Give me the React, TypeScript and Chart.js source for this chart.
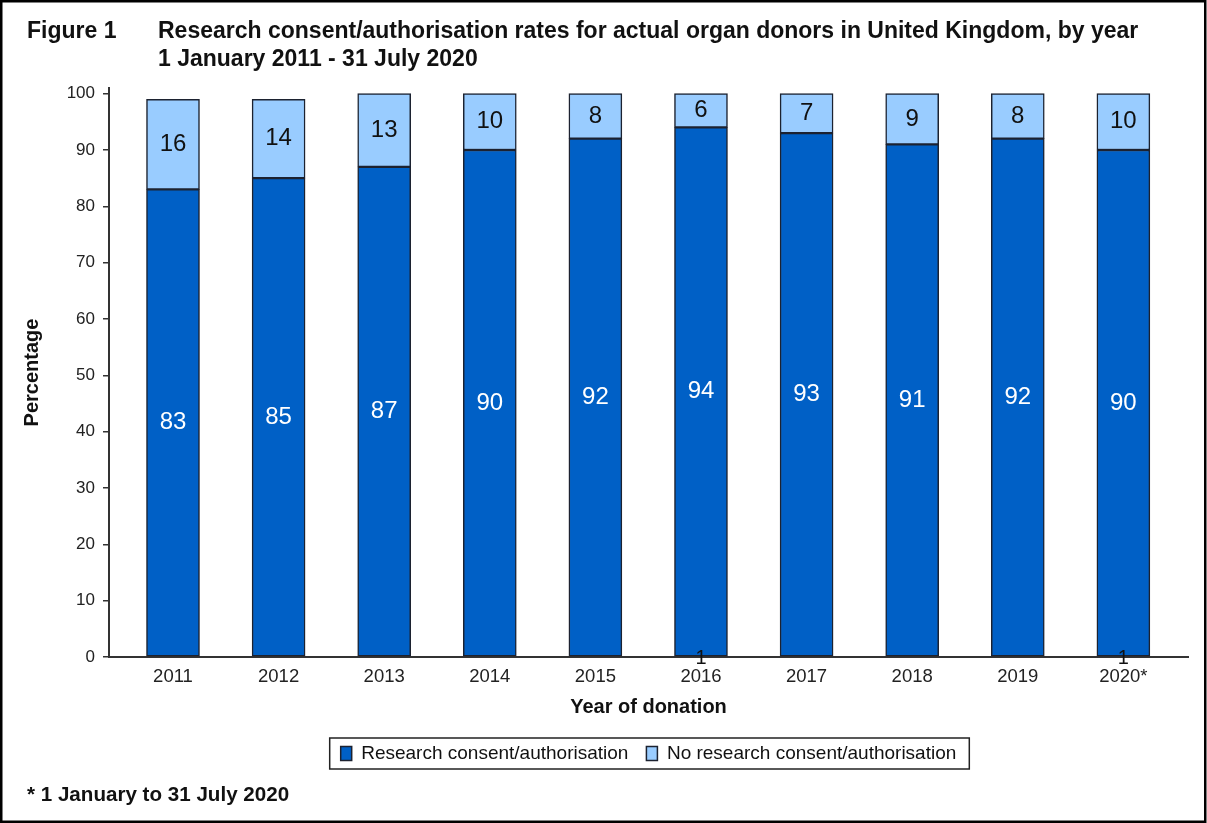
import { useEffect, useRef } from 'react';
import { Chart, registerables } from 'chart.js';

Chart.register(...registerables);

const years = ['2011', '2012', '2013', '2014', '2015', '2016', '2017', '2018', '2019', '2020*'];
const researchConsent = [83, 85, 87, 90, 92, 94, 93, 91, 92, 90];
const noResearchConsent = [16, 14, 13, 10, 8, 6, 7, 9, 8, 10];
const baselineNotes = ['', '', '', '', '', '1', '', '', '', '1'];
const yTickValues = [0, 10, 20, 30, 40, 50, 60, 70, 80, 90, 100];
const figureLabel = 'Figure 1';
const titleLines = [
  'Research consent/authorisation rates for actual organ donors in United Kingdom, by year',
  '1 January 2011 - 31 July 2020',
];
const footnote = '* 1 January to 31 July 2020';
const seriesNames = ['Research consent/authorisation', 'No research consent/authorisation'];

const DARK = '#0060C6';
const LIGHT = '#99CCFF';
const EDGE = '#1c2230';

const decorPlugin = {
  id: 'decor',
  afterDatasetsDraw(chart: any) {
    const ctx = chart.ctx;
    ctx.save();
    chart.data.datasets.forEach((ds: any, di: number) => {
      const meta = chart.getDatasetMeta(di);
      meta.data.forEach((el: any, i: number) => {
        const v = ds.data[i].y;
        const y = (el.y + el.base) / 2;
        ctx.font = '24px "Liberation Sans"';
        ctx.fillStyle = di === 0 ? '#ffffff' : '#111111';
        ctx.textAlign = 'center';
        ctx.textBaseline = 'middle';
        ctx.fillText(String(v), el.x, y);
      });
    });
    const meta0 = chart.getDatasetMeta(0);
    meta0.data.forEach((el: any, i: number) => {
      const note = baselineNotes[i];
      if (!note) return;
      ctx.font = '20px "Liberation Sans"';
      ctx.fillStyle = '#111111';
      ctx.textAlign = 'center';
      ctx.textBaseline = 'middle';
      ctx.fillText(note, el.x, chart.chartArea.bottom + 1);
    });
    ctx.restore();
  },
  afterDraw(chart: any) {
    const ctx = chart.ctx;
    ctx.save();
    // titles
    ctx.fillStyle = '#111111';
    ctx.textBaseline = 'middle';
    ctx.textAlign = 'left';
    ctx.font = 'bold 23px "Liberation Sans"';
    ctx.fillText(figureLabel, 27, 32);
    ctx.fillText(titleLines[0], 158, 32);
    ctx.fillText(titleLines[1], 158, 60);
    ctx.font = 'bold 20.6px "Liberation Sans"';
    ctx.fillText(footnote, 27, 795);
    // legend frame
    const hb = chart.legend && chart.legend.legendHitBoxes;
    if (hb && hb.length) {
      const first = hb[0];
      const last = hb[hb.length - 1];
      const cy = first.top + first.height / 2;
      const x0 = first.left - 11;
      const x1 = last.left + last.width + 13;
      ctx.strokeStyle = '#222222';
      ctx.lineWidth = 1.5;
      ctx.strokeRect(x0, cy - 15.5, x1 - x0, 31);
    }
    // outer frame
    ctx.strokeStyle = '#000000';
    ctx.lineWidth = 2.5;
    ctx.strokeRect(1.25, 1.25, chart.width - 3, chart.height - 2.5);
    ctx.restore();
  },
};

export default function App() {
  const ref = useRef<HTMLCanvasElement | null>(null);

  useEffect(() => {
    document.body.style.margin = '0';
    const canvas = ref.current;
    if (!canvas) return;
    Chart.defaults.font.family = '"Liberation Sans", Arial, sans-serif';
    const chart = new Chart(canvas, {
      type: 'bar',
      data: {
        datasets: [
          {
            label: seriesNames[0],
            data: researchConsent.map((v, i) => ({ x: i, y: v })),
            backgroundColor: DARK,
            borderColor: EDGE,
            borderWidth: 1.5,
            borderSkipped: false,
            barThickness: 53,
          },
          {
            label: seriesNames[1],
            data: noResearchConsent.map((v, i) => ({ x: i, y: v })),
            backgroundColor: LIGHT,
            borderColor: EDGE,
            borderWidth: 1.5,
            borderSkipped: false,
            barThickness: 53,
          },
        ],
      } as any,
      options: {
        responsive: false,
        animation: false,
        devicePixelRatio: 1,
        layout: { padding: { top: 88, left: 20, right: 19, bottom: 50 } },
        plugins: {
          title: { display: false },
          tooltip: { enabled: false },
          legend: {
            display: true,
            position: 'bottom',
            fullSize: false,
            labels: {
              boxWidth: 11,
              boxHeight: 14,
              padding: 18,
              color: '#111111',
              font: { size: 19 },
            },
          },
        },
        scales: {
          x: {
            type: 'linear',
            min: -0.606,
            max: 9.612,
            stacked: true,
            offset: false,
            grid: { display: false, drawTicks: false, tickLength: 0 },
            border: { display: true, color: '#333333', width: 2 },
            afterBuildTicks: (s: any) => {
              s.ticks = years.map((_, i) => ({ value: i }));
            },
            afterFit: (s: any) => {
              s.height = 69;
            },
            ticks: {
              autoSkip: false,
              maxRotation: 0,
              padding: 9,
              color: '#222222',
              font: { size: 18.5 },
              callback: (v: any) => years[v as number] ?? '',
            },
            title: {
              display: true,
              text: 'Year of donation',
              color: '#111111',
              font: { size: 20, weight: 'bold' },
              padding: { top: 0, bottom: 7 },
            },
          },
          y: {
            min: 0,
            max: 101,
            stacked: true,
            grid: { drawOnChartArea: false, drawTicks: true, tickLength: 6, color: '#333333', lineWidth: 1.5 },
            border: { display: true, color: '#333333', width: 2 },
            afterBuildTicks: (s: any) => {
              s.ticks = yTickValues.map((v) => ({ value: v }));
            },
            afterFit: (s: any) => {
              s.width = 89;
            },
            ticks: {
              padding: 8,
              color: '#222222',
              font: { size: 17 },
            },
            title: {
              display: true,
              text: 'Percentage',
              color: '#111111',
              font: { size: 20, weight: 'bold' },
              padding: { top: 0, bottom: 0 },
            },
          },
        },
      } as any,
      plugins: [decorPlugin],
    });
    return () => chart.destroy();
  }, []);

  return <canvas ref={ref} width={1207} height={823} style={{ display: 'block' }} />;
}
